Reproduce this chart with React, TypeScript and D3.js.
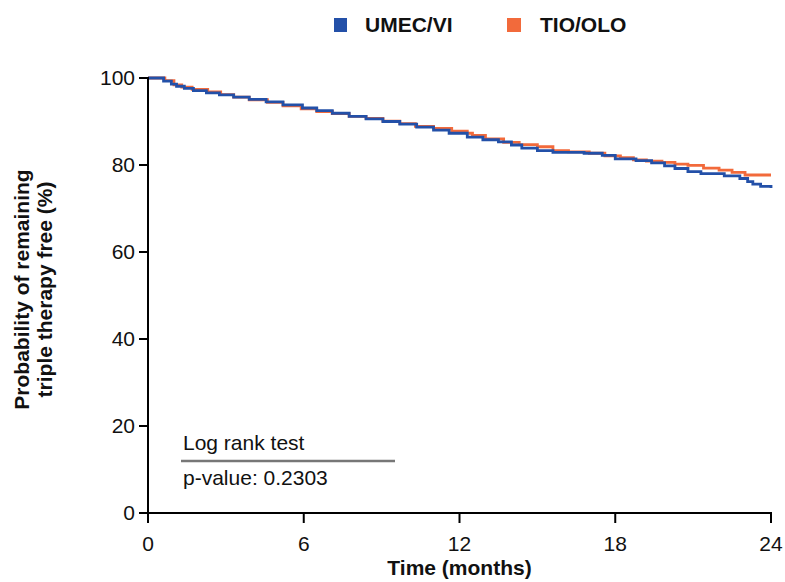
import React from 'react';
import * as d3 from 'd3';

// Kaplan-Meier steps: [months, % remaining]
const umecTimes = [0, 0.6, 0.9, 1.1, 1.4, 1.75, 2.25, 2.75, 3.3, 3.9, 4.55, 5.2, 5.95, 6.5, 7.1, 7.75, 8.4, 9.05, 9.7, 10.35, 11.0, 11.6, 12.3, 12.9, 13.5, 14.0, 14.4, 15.0, 15.6, 16.8, 17.5, 18.0, 18.8, 19.4, 19.9, 20.3, 20.8, 21.3, 22.2, 22.8, 23.1, 23.3, 23.6, 24.0];
const umecValues = [100, 99.3, 98.6, 98.1, 97.6, 97.1, 96.6, 96.1, 95.6, 95.1, 94.5, 93.8, 93.1, 92.5, 91.9, 91.2, 90.6, 90.0, 89.4, 88.7, 88.0, 87.3, 86.4, 85.8, 85.3, 84.6, 83.9, 83.3, 82.9, 82.7, 82.2, 81.4, 81.0, 80.5, 79.8, 79.2, 78.5, 78.0, 77.5, 76.9, 76.2, 75.6, 75.1, 74.7];

const tioTimes = [0, 0.65, 1.0, 1.3, 1.7, 2.3, 2.8, 3.3, 3.9, 4.6, 5.2, 5.9, 6.5, 7.1, 7.75, 8.4, 9.05, 9.7, 10.3, 11.0, 11.7, 12.3, 12.5, 13.0, 13.7, 14.3, 15.0, 15.6, 16.2, 17.0, 17.6, 18.2, 18.7, 19.2, 19.8, 20.3, 20.8, 21.4, 22.0, 22.5, 23.0, 24.0];
const tioValues = [100, 99.4, 98.4, 97.9, 97.4, 96.8, 96.2, 95.6, 95.0, 94.4, 93.6, 92.9, 92.3, 91.8, 91.2, 90.7, 90.1, 89.5, 88.9, 88.4, 87.8, 87.3, 86.8, 86.0, 85.2, 84.7, 84.2, 83.3, 83.0, 82.7, 82.1, 81.7, 81.2, 80.9, 80.6, 80.2, 79.9, 79.3, 78.8, 78.3, 77.7, 77.7];

const xTicks = [0, 6, 12, 18, 24];
const yTicks = [0, 20, 40, 60, 80, 100];

const seriesNames = ['UMEC/VI', 'TIO/OLO'];
const seriesColors = ['#2350a8', '#f26a3b'];

const W = 785;
const H = 582;
const margin = { top: 78, right: 14, bottom: 69, left: 148 };
const font = 'Arial, "Liberation Sans", Helvetica, sans-serif';

export default function App() {
  const x = d3.scaleLinear().domain([0, 24]).range([margin.left, W - margin.right]);
  const y = d3.scaleLinear().domain([0, 100]).range([H - margin.bottom, margin.top]);

  const line = d3
    .line<[number, number]>()
    .x(d => x(d[0]))
    .y(d => y(d[1]))
    .curve(d3.curveStepAfter);

  const umec: [number, number][] = umecTimes.map((t, i) => [t, umecValues[i]]);
  const tio: [number, number][] = tioTimes.map((t, i) => [t, tioValues[i]]);

  const y0 = y(0);
  const x0 = x(0);

  return (
    <svg width={W} height={H} style={{ position: 'absolute', left: 0, top: 0 }} fontFamily={font}>
      <rect width={W} height={H} fill="#fff" />

      {/* legend */}
      <g>
        <rect x={334} y={18} width={13} height={14} fill={seriesColors[0]} />
        <text x={365} y={32} fontSize={21} fontWeight="bold" fill="#111">{seriesNames[0]}</text>
        <rect x={507} y={18} width={14} height={14} fill={seriesColors[1]} />
        <text x={540} y={32} fontSize={21} fontWeight="bold" fill="#111">{seriesNames[1]}</text>
      </g>

      {/* curves */}
      <path d={line(tio) || ''} fill="none" stroke={seriesColors[1]} strokeWidth={2.8} />
      <path d={line(umec) || ''} fill="none" stroke={seriesColors[0]} strokeWidth={2.8} />

      {/* y axis */}
      <line x1={x0} x2={x0} y1={y(100) - 1} y2={y0 + 1} stroke="#000" strokeWidth={2} />
      {yTicks.map(t => (
        <g key={t}>
          <line x1={x0 - 9} x2={x0} y1={y(t)} y2={y(t)} stroke="#000" strokeWidth={2} />
          <text x={x0 - 13} y={y(t)} dy="0.35em" textAnchor="end" fontSize={21} fill="#111">{t}</text>
        </g>
      ))}

      {/* x axis */}
      <line x1={x0 - 9} x2={x(24) + 1} y1={y0} y2={y0} stroke="#000" strokeWidth={2} />
      {xTicks.map(t => (
        <g key={t}>
          <line x1={x(t)} x2={x(t)} y1={y0} y2={y0 + 10} stroke="#000" strokeWidth={2} />
          <text x={x(t)} y={551} textAnchor="middle" fontSize={21} fill="#111">{t}</text>
        </g>
      ))}

      {/* axis titles */}
      <text x={(x(0) + x(24)) / 2} y={575} textAnchor="middle" fontSize={21} fontWeight="bold" fill="#111">Time (months)</text>
      <text transform={`translate(29,${(y(0) + y(100)) / 2 - 6}) rotate(-90)`} textAnchor="middle" fontSize={21} fontWeight="bold" fill="#111">
        <tspan x={0} dy={0}>Probability of remaining</tspan>
        <tspan x={0} dy={23}>triple therapy free (%)</tspan>
      </text>

      {/* log rank annotation */}
      <text x={183} y={450} fontSize={21} fill="#111">Log rank test</text>
      <line x1={181} x2={395} y1={461} y2={461} stroke="#777" strokeWidth={2.5} />
      <text x={183} y={485} fontSize={21} fill="#111">p-value: 0.2303</text>
    </svg>
  );
}
